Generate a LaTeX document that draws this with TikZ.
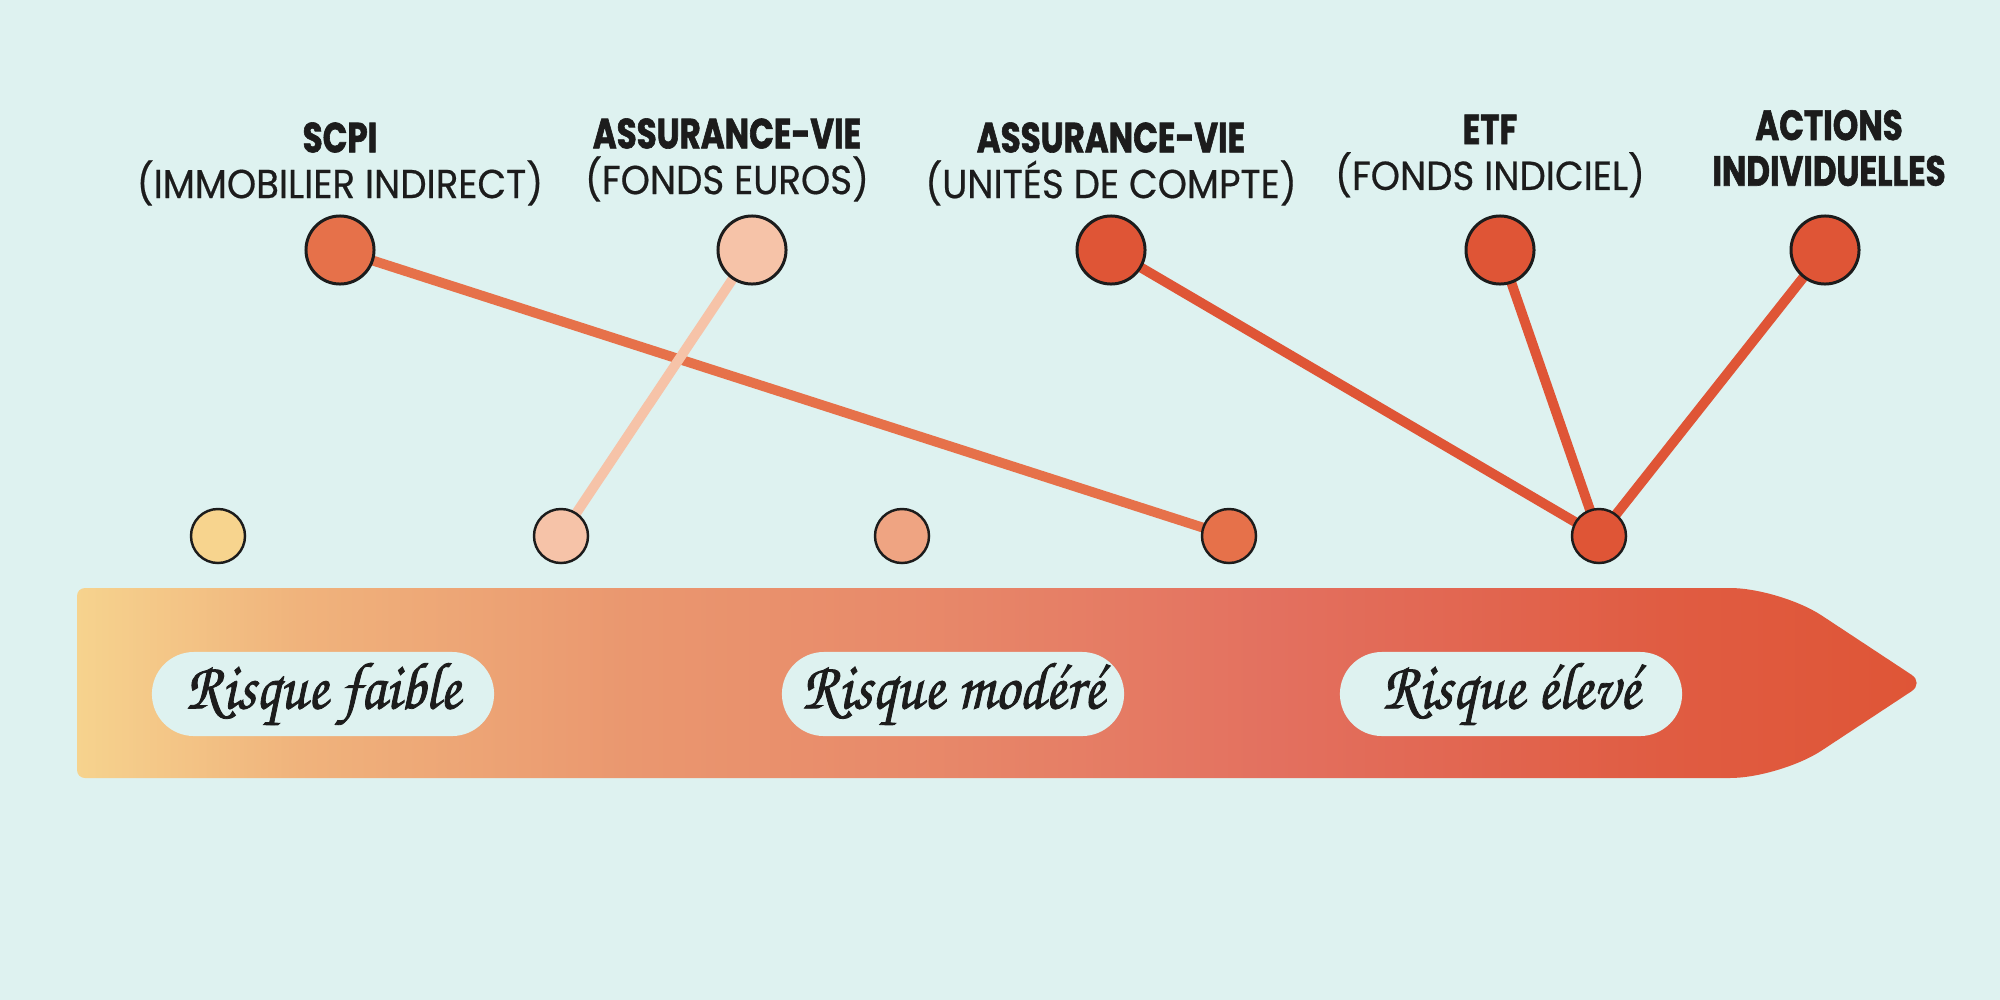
\documentclass[tikz,border=0pt]{standalone}
\usepackage{fontspec}
\setmainfont{Poppins}
\newfontfamily\heavyfont{Poppins}[FakeStretch=0.77, FakeBold=1.4]
\newfontfamily\lightfont{Poppins}[FakeStretch=0.92, FakeBold=0.5]
\newfontfamily\scriptfamily{texgyrechorus-mediumitalic.otf}[FakeBold=1.2, FakeStretch=0.9]
\newcommand\heavy{\heavyfont\bfseries\fontsize{12}{13}\selectfont}
\newcommand\light{\lightfont\fontsize{11.5}{13}\selectfont}
\newcommand\riskscript{\scriptfamily\fontsize{19}{19}\selectfont}
\usetikzlibrary{positioning}

\definecolor{bg}{HTML}{DEF2F0}
\definecolor{ink}{HTML}{1C1C1C}
\definecolor{risk1}{HTML}{F7D48E}
\definecolor{risk2}{HTML}{F6C3A8}
\definecolor{risk3}{HTML}{EFA482}
\definecolor{risk4}{HTML}{E6714A}
\definecolor{risk5}{HTML}{DF5536}
\definecolor{band0}{HTML}{F6D38E}
\definecolor{band1}{HTML}{F0B37C}
\definecolor{band2}{HTML}{EA976F}
\definecolor{band3}{HTML}{E88A6A}
\definecolor{band4}{HTML}{E3705F}
\definecolor{band5}{HTML}{E05C42}
\definecolor{band6}{HTML}{DF5536}
\pgfdeclarehorizontalshading{riskband}{100bp}{color(0bp)=(band0); color(25bp)=(band0); color(31bp)=(band1); color(40bp)=(band2); color(47.5bp)=(band3); color(57.5bp)=(band4); color(68bp)=(band5); color(75bp)=(band6); color(100bp)=(band6)}

\begin{document}
\begin{tikzpicture}[x=0.01cm, y=-0.01cm,
    dot/.style={circle, draw=ink, line width=0.7pt, inner sep=0pt, minimum size=0.54cm},
    bigdot/.style={dot, line width=0.85pt, minimum size=0.68cm},
    link/.style={line width=2.8pt},
    pill/.style={fill=bg, rounded corners=0.42cm, minimum width=3.42cm, minimum height=0.84cm, inner sep=0pt, text=ink, font=\riskscript},
    label/.style={align=center, inner sep=0pt, text=ink, font=\light}]
  \fill[bg] (0,0) rectangle (2000,1000);
  \useasboundingbox (0,0) rectangle (2000,1000);

  % the risk arrow
  \shade[shading=riskband, rounded corners=0.08cm] (77,683) -- (77,588) [rounded corners=0.5cm] -- (1780,588) [rounded corners=0.15cm] -- (1924,683) [rounded corners=0.5cm] -- (1780,778) [rounded corners=0.08cm] -- (77,778) -- cycle;
  \node[pill] (low) at (323,694) {Risque faible};
  \node[pill] (mid) at (953,694) {Risque modéré};
  \node[pill] (high) at (1511,694) {Risque élevé};

  % products and levels
  \coordinate (scpi) at (340,250);
  \coordinate (euros) at (752,250);
  \coordinate (uc) at (1111,250);
  \coordinate (etf) at (1500,250);
  \coordinate (actions) at (1825,250);
  \coordinate (lvl1) at (218,536);
  \coordinate (lvl2) at (561,536);
  \coordinate (lvl3) at (902,536);
  \coordinate (lvl4) at (1229,536);
  \coordinate (lvl5) at (1599,536);

  \draw[link, risk4] (scpi) -- (lvl4);
  \draw[link, risk2] (euros) -- (lvl2);
  \draw[link, risk5] (uc) -- (lvl5);
  \draw[link, risk5] (etf) -- (lvl5);
  \draw[link, risk5] (actions) -- (lvl5);

  \node[dot, fill=risk1] (lvl1 dot) at (lvl1) {};
  \node[dot, fill=risk2] (lvl2 dot) at (lvl2) {};
  \node[dot, fill=risk3] (lvl3 dot) at (lvl3) {};
  \node[dot, fill=risk4] (lvl4 dot) at (lvl4) {};
  \node[dot, fill=risk5] (lvl5 dot) at (lvl5) {};

  \node[bigdot, fill=risk4] (scpi dot) at (scpi) {};
  \node[bigdot, fill=risk2] (euros dot) at (euros) {};
  \node[bigdot, fill=risk5] (uc dot) at (uc) {};
  \node[bigdot, fill=risk5] (etf dot) at (etf) {};
  \node[bigdot, fill=risk5] (actions dot) at (actions) {};

  \node[label] (scpi text) at (340,164) {{\heavy SCPI}\\(IMMOBILIER INDIRECT)};
  \node[label] (euros text) at (727,160) {{\heavy ASSURANCE-VIE}\\(FONDS EUROS)};
  \node[label] (uc text) at (1111,164) {{\heavy ASSURANCE-VIE}\\(UNITÉS DE COMPTE)};
  \node[label] (etf text) at (1490,156) {{\heavy ETF}\\(FONDS INDICIEL)};
  \node[label, font=\heavy] (actions text) at (1829,148) {ACTIONS\\INDIVIDUELLES};
\end{tikzpicture}
\end{document}
